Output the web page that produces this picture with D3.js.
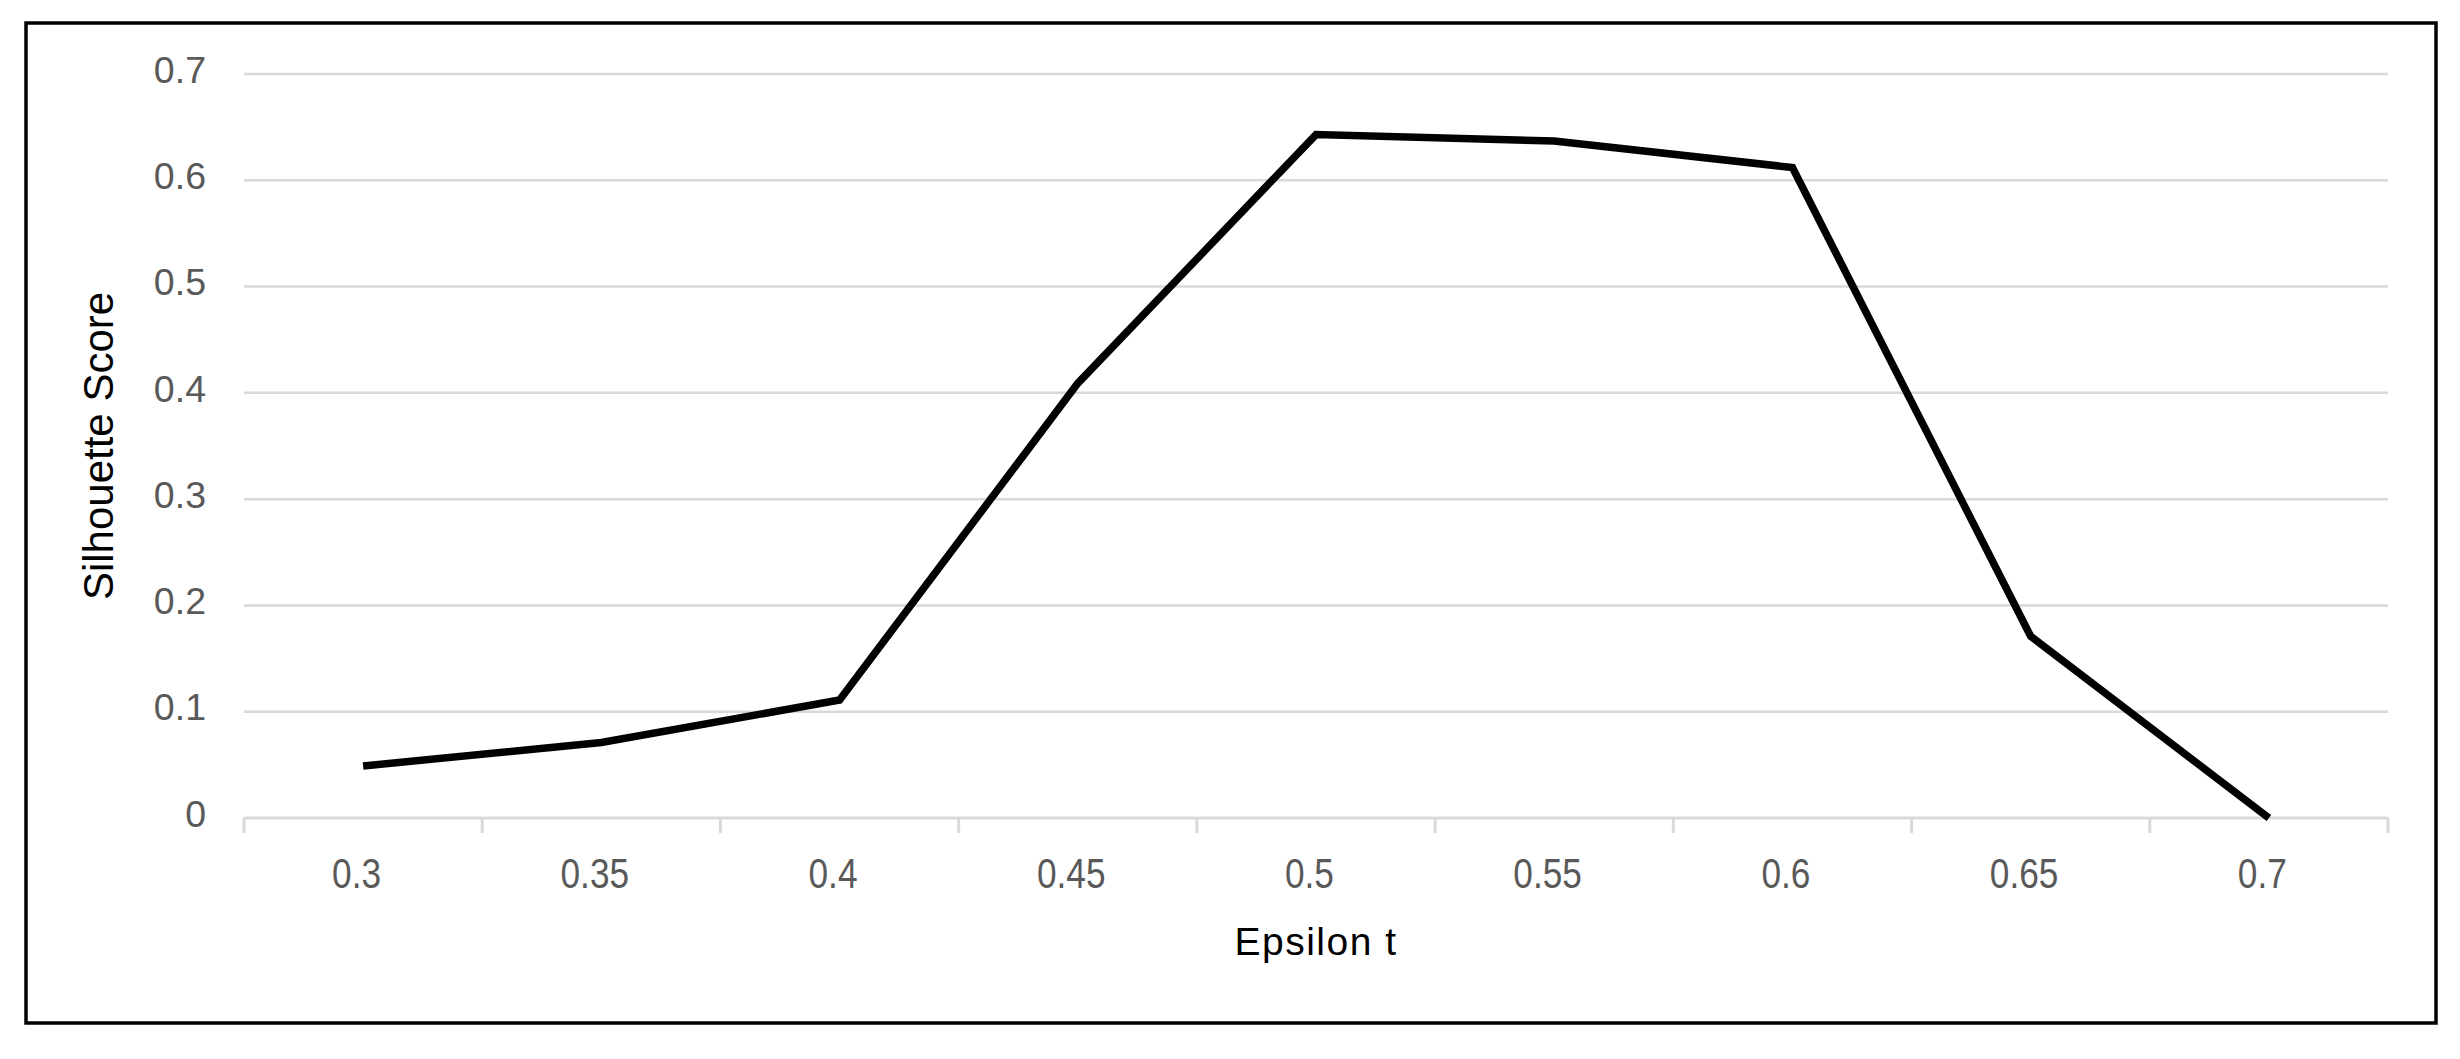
<!DOCTYPE html>
<html>
<head>
<meta charset="utf-8">
<script src="https://cdn.jsdelivr.net/npm/d3@7"></script>
<style>
  html, body { margin: 0; padding: 0; background: #fff; }
  svg { display: block; }
</style>
</head>
<body>
<svg id="chart" width="2460" height="1059"></svg>
<script>
// ---- data ----
const categories = ["0.3", "0.35", "0.4", "0.45", "0.5", "0.55", "0.6", "0.65", "0.7"];
const silhouette = [0.049, 0.071, 0.111, 0.409, 0.643, 0.637, 0.612, 0.171, 0.0];
const yTicks = [0, 0.1, 0.2, 0.3, 0.4, 0.5, 0.6, 0.7];
const yTickLabels = ["0", "0.1", "0.2", "0.3", "0.4", "0.5", "0.6", "0.7"];
const xTitle = "Epsilon t";
const yTitle = "Silhouette Score";

// ---- layout ----
const W = 2460, H = 1059;
const plot = { left: 244, right: 2388, top: 74, bottom: 818 };

const svg = d3.select("#chart");

svg.append("rect").attr("width", W).attr("height", H).attr("fill", "#fff");

// outer frame
svg.append("rect")
  .attr("x", 26).attr("y", 23)
  .attr("width", 2410).attr("height", 1000)
  .attr("fill", "none").attr("stroke", "#000").attr("stroke-width", 3.5);

const x = d3.scaleBand().domain(categories).range([plot.left, plot.right]).padding(0);
const y = d3.scaleLinear().domain([0, 0.7]).range([plot.bottom, plot.top]);

// gridlines
svg.append("g")
  .selectAll("line")
  .data(yTicks.filter(v => v > 0))
  .join("line")
  .attr("x1", plot.left).attr("x2", plot.right)
  .attr("y1", d => y(d)).attr("y2", d => y(d))
  .attr("stroke", "#d9d9d9").attr("stroke-width", 2.5);

// y axis labels
const yAxis = svg.append("g")
  .attr("transform", `translate(${plot.left},0)`)
  .call(d3.axisLeft(y).tickValues(yTicks)
        .tickFormat((d, i) => yTickLabels[i])
        .tickSize(0).tickPadding(38));
yAxis.select(".domain").remove();
yAxis.selectAll("text")
  .attr("font-family", "'Liberation Sans', Arial, sans-serif")
  .attr("font-size", 37.5)
  .attr("fill", "#595959")
  .attr("dy", "0.22em");

// x axis line + boundary ticks
const xg = svg.append("g").attr("class", "xaxis");
xg.append("line")
  .attr("x1", plot.left).attr("x2", plot.right)
  .attr("y1", y(0)).attr("y2", y(0))
  .attr("stroke", "#d9d9d9").attr("stroke-width", 3);
const boundaries = categories.map(c => x(c)).concat([x.range()[1]]);
xg.selectAll("line.tick")
  .data(boundaries)
  .join("line")
  .attr("class", "tick")
  .attr("x1", d => d).attr("x2", d => d)
  .attr("y1", y(0)).attr("y2", y(0) + 15)
  .attr("stroke", "#d9d9d9").attr("stroke-width", 3);

// x labels
const xAxis = svg.append("g")
  .attr("transform", `translate(0,${plot.bottom})`)
  .call(d3.axisBottom(x).tickSize(0).tickPadding(0));
xAxis.select(".domain").remove();
xAxis.selectAll("text")
  .attr("font-family", "'Liberation Sans', Arial, sans-serif")
  .attr("font-size", 43)
  .attr("fill", "#595959")
  .attr("y", 70).attr("dy", 0)
  .attr("x", -8)
  .attr("transform", "scale(0.82,1)");

// line
const line = d3.line()
  .x((d, i) => x(categories[i]) + x.bandwidth() / 2)
  .y(d => y(d));
svg.append("path")
  .datum(silhouette)
  .attr("d", line)
  .attr("fill", "none")
  .attr("stroke", "#000")
  .attr("stroke-width", 7.5)
  .attr("stroke-linejoin", "miter")
  .attr("stroke-linecap", "butt");

// axis titles
svg.append("text")
  .attr("x", (plot.left + plot.right) / 2)
  .attr("y", 955)
  .attr("text-anchor", "middle")
  .attr("font-family", "'Liberation Sans', Arial, sans-serif")
  .attr("font-size", 39)
  .attr("letter-spacing", 1.5)
  .attr("fill", "#000")
  .text(xTitle);

svg.append("text")
  .attr("transform", `translate(113,${(plot.top + plot.bottom) / 2}) rotate(-90)`)
  .attr("text-anchor", "middle")
  .attr("font-family", "'Liberation Sans', Arial, sans-serif")
  .attr("font-size", 42)
  .attr("fill", "#000")
  .text(yTitle);
</script>
</body>
</html>
